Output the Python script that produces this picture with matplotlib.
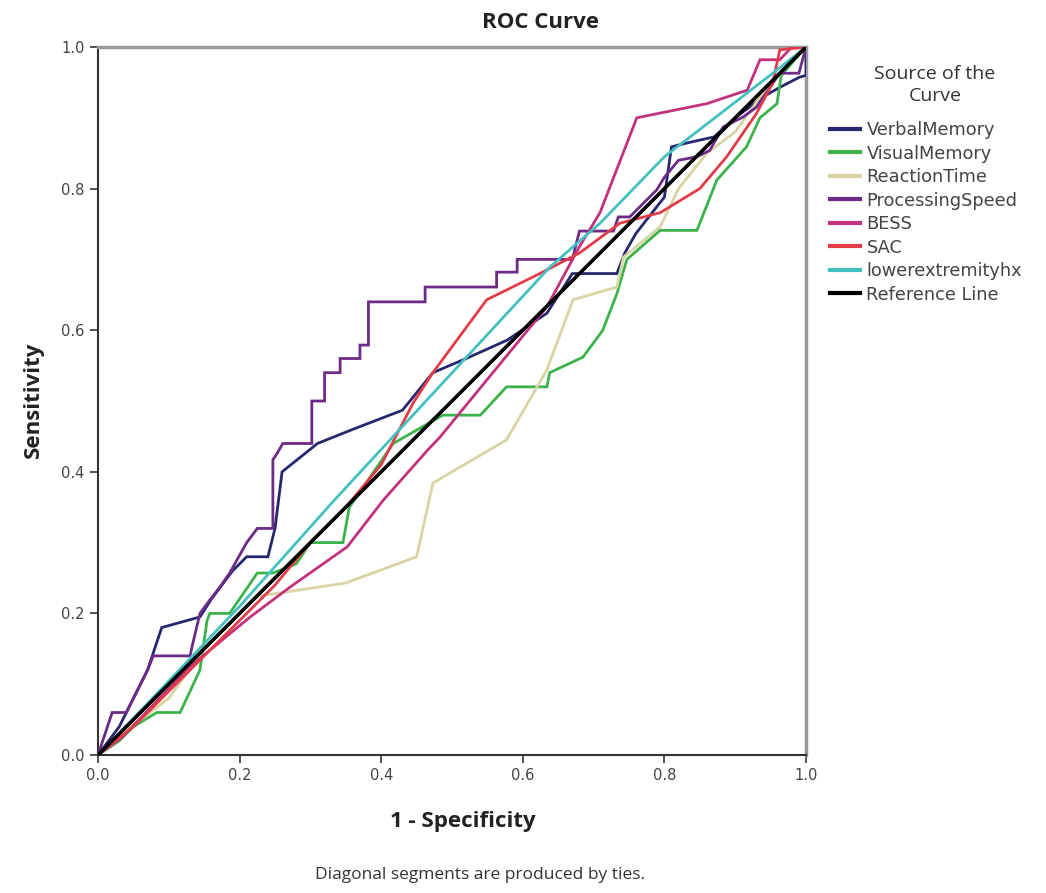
import matplotlib
matplotlib.use("Agg")
import matplotlib.pyplot as plt

# ROC curve points: (1 - specificity, sensitivity)
verbal_x = [0, 0.03, 0.05, 0.07, 0.09, 0.144, 0.16, 0.19, 0.21, 0.24, 0.25, 0.26, 0.285, 0.31, 0.36, 0.43, 0.473, 0.52, 0.578, 0.634, 0.67, 0.733, 0.744, 0.76, 0.80, 0.81, 0.83, 0.87, 0.90, 0.94, 0.963, 0.99, 1.0, 1.0]
verbal_y = [0, 0.04, 0.08, 0.12, 0.18, 0.195, 0.22, 0.26, 0.28, 0.28, 0.32, 0.40, 0.42, 0.44, 0.46, 0.487, 0.54, 0.56, 0.586, 0.624, 0.68, 0.68, 0.709, 0.737, 0.788, 0.859, 0.864, 0.873, 0.90, 0.93, 0.943, 0.957, 0.96, 1.0]

visual_x = [0, 0.03, 0.05, 0.083, 0.116, 0.144, 0.154, 0.158, 0.186, 0.225, 0.247, 0.28, 0.30, 0.346, 0.355, 0.417, 0.487, 0.54, 0.577, 0.634, 0.638, 0.685, 0.713, 0.733, 0.747, 0.794, 0.846, 0.874, 0.916, 0.935, 0.959, 0.965, 1.0]
visual_y = [0, 0.02, 0.04, 0.06, 0.06, 0.12, 0.19, 0.20, 0.20, 0.257, 0.257, 0.27, 0.30, 0.30, 0.35, 0.44, 0.48, 0.48, 0.52, 0.52, 0.54, 0.562, 0.60, 0.652, 0.70, 0.741, 0.741, 0.812, 0.859, 0.90, 0.92, 0.96, 1.0]

reaction_x = [0, 0.02, 0.10, 0.15, 0.20, 0.224, 0.35, 0.45, 0.473, 0.50, 0.577, 0.634, 0.671, 0.733, 0.742, 0.794, 0.82, 0.86, 0.90, 0.95, 1.0]
reaction_y = [0, 0.02, 0.08, 0.15, 0.20, 0.224, 0.243, 0.28, 0.384, 0.40, 0.445, 0.544, 0.643, 0.661, 0.703, 0.746, 0.80, 0.85, 0.88, 0.95, 1.0]

speed_x = [0, 0.02, 0.04, 0.05, 0.06, 0.07, 0.078, 0.13, 0.134, 0.144, 0.158, 0.172, 0.186, 0.196, 0.21, 0.225, 0.247, 0.247, 0.253, 0.261, 0.302, 0.302, 0.32, 0.32, 0.342, 0.342, 0.37, 0.37, 0.382, 0.382, 0.462, 0.462, 0.563, 0.563, 0.592, 0.592, 0.67, 0.68, 0.728, 0.735, 0.751, 0.789, 0.80, 0.82, 0.846, 0.864, 0.883, 0.911, 0.93, 0.963, 0.99, 1.0]
speed_y = [0, 0.06, 0.06, 0.08, 0.10, 0.12, 0.14, 0.14, 0.158, 0.20, 0.219, 0.237, 0.257, 0.275, 0.30, 0.32, 0.32, 0.417, 0.426, 0.44, 0.44, 0.50, 0.50, 0.54, 0.54, 0.56, 0.56, 0.579, 0.579, 0.64, 0.64, 0.661, 0.661, 0.682, 0.682, 0.70, 0.70, 0.74, 0.74, 0.76, 0.76, 0.798, 0.816, 0.84, 0.845, 0.854, 0.887, 0.901, 0.915, 0.963, 0.963, 1.0]

bess_x = [0, 0.035, 0.13, 0.215, 0.271, 0.352, 0.403, 0.465, 0.483, 0.634, 0.68, 0.709, 0.761, 0.86, 0.917, 0.935, 0.963, 0.98, 1.0]
bess_y = [0, 0.026, 0.125, 0.195, 0.237, 0.294, 0.36, 0.43, 0.449, 0.633, 0.718, 0.766, 0.90, 0.92, 0.939, 0.982, 0.982, 1.0, 1.0]

sac_x = [0, 0.05, 0.10, 0.15, 0.20, 0.25, 0.30, 0.35, 0.40, 0.445, 0.473, 0.549, 0.624, 0.68, 0.737, 0.794, 0.85, 0.888, 0.93, 0.953, 0.963, 1.0]
sac_y = [0, 0.04, 0.09, 0.14, 0.19, 0.24, 0.30, 0.35, 0.41, 0.497, 0.54, 0.643, 0.68, 0.709, 0.751, 0.766, 0.80, 0.845, 0.906, 0.949, 0.996, 1.0]

lower_x = [0, 0.02, 0.20, 0.332, 0.638, 0.709, 0.80, 0.953, 1.0]
lower_y = [0, 0.02, 0.21, 0.358, 0.689, 0.751, 0.845, 0.963, 1.0]

ref_x = [0, 1]
ref_y = [0, 1]

names = ["VerbalMemory", "VisualMemory", "ReactionTime", "ProcessingSpeed",
         "BESS", "SAC", "lowerextremityhx", "Reference Line"]
colors = ["#25286e", "#3cb34a", "#d8d4a4", "#6d2a87", "#c2327c", "#e23c48", "#43c1c1", "#000000"]
xs = [verbal_x, visual_x, reaction_x, speed_x, bess_x, sac_x, lower_x, ref_x]
ys = [verbal_y, visual_y, reaction_y, speed_y, bess_y, sac_y, lower_y, ref_y]

fig = plt.figure(figsize=(10.46, 8.93), dpi=100)
ax = fig.add_axes([98/1046, 1-755/893, 708/1046, 708/893])

for i in range(len(names)):
    lw = 2.6 if names[i] == "Reference Line" else 2.0
    ax.plot(xs[i], ys[i], color=colors[i], lw=lw, label=names[i],
            solid_joinstyle="miter", zorder=3 + (i == 7))

ax.set_xlim(0, 1)
ax.set_ylim(0, 1)
ticks = [0.0, 0.2, 0.4, 0.6, 0.8, 1.0]
ax.set_xticks(ticks)
ax.set_yticks(ticks)
ax.set_xticklabels(["%.1f" % t for t in ticks], fontsize=10.5, color="#444444")
ax.set_yticklabels(["%.1f" % t for t in ticks], fontsize=10.5, color="#444444")
ax.tick_params(direction="out", length=6, width=1.2, color="#333333")
for s in ["left", "bottom"]:
    ax.spines[s].set_color("#333333")
    ax.spines[s].set_linewidth(1.5)
for s in ["top", "right"]:
    ax.spines[s].set_color("#999999")
    ax.spines[s].set_linewidth(2.5)

fig.text(540/1046, 1-22/893, "ROC Curve", ha="center", va="center",
         fontsize=16, fontweight="bold", family="Open Sans", color="#222222")
fig.text(463/1046, 1-822/893, "1 - Specificity", ha="center", va="center",
         fontsize=16, fontweight="bold", family="Open Sans", color="#222222")
fig.text(33/1046, 1-400/893, "Sensitivity", ha="center", va="center", rotation=90,
         fontsize=16, fontweight="bold", family="Open Sans", color="#222222")
fig.text(480/1046, 1-875/893, "Diagonal segments are produced by ties.", ha="center",
         va="center", fontsize=12.5, family="Open Sans", color="#333333")

# legend title as separate centered text, entries below it
fig.text(935/1046, 1-85/893, "Source of the\nCurve", ha="center", va="center",
         multialignment="center", fontsize=14, family="Open Sans", color="#333333",
         linespacing=1.35)
leg = ax.legend(loc="upper left", bbox_to_anchor=(830/1046, 1-121/893),
                bbox_transform=fig.transFigure, frameon=False,
                prop={"family": "DejaVu Sans", "size": 12.8},
                handlelength=1.7, handletextpad=0.35,
                labelspacing=0.31, borderaxespad=0, borderpad=0)
for t in leg.get_texts():
    t.set_color("#444444")
for h in leg.get_lines():
    h.set_linewidth(3.0)

fig.savefig("out.png", dpi=100)
